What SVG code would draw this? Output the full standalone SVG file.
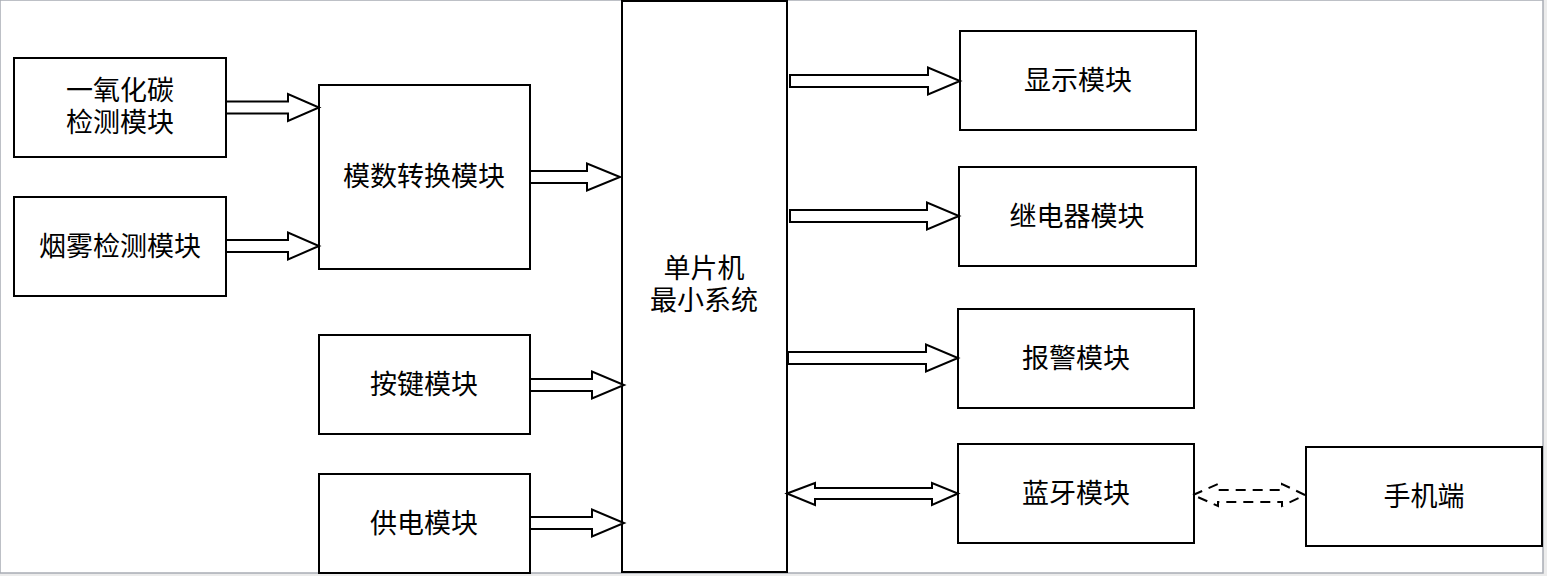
<svg xmlns="http://www.w3.org/2000/svg" width="1547" height="576" viewBox="0 0 1547 576">
<style>
.box{fill:#fff;stroke:#000;stroke-width:2}
.t{font-family:"Liberation Sans","Noto Sans CJK SC",sans-serif;font-size:27px;fill:#000;text-anchor:middle}
.arr{fill:#fff;stroke:#000;stroke-width:2;stroke-linejoin:miter}
.dash{fill:none;stroke:#000;stroke-width:2;stroke-dasharray:10,7}
</style>
<rect x="0" y="0" width="1547" height="576" fill="#ececec"/>
<rect x="0" y="0" width="1543" height="573" fill="#fff" stroke="#a8acb4" stroke-width="1.5"/>
<g id="co"><rect class="box" x="14" y="58" width="212" height="99"/><text class="t" x="120" y="100">一氧化碳</text><text class="t" x="120" y="132">检测模块</text></g>
<g id="smoke"><rect class="box" x="14" y="197" width="212" height="99"/><text class="t" x="120" y="256">烟雾检测模块</text></g>
<g id="adc"><rect class="box" x="319" y="85" width="211" height="184"/><text class="t" x="424" y="186">模数转换模块</text></g>
<g id="key"><rect class="box" x="319" y="335" width="211" height="99"/><text class="t" x="424" y="394">按键模块</text></g>
<g id="power"><rect class="box" x="319" y="474" width="211" height="99"/><text class="t" x="424" y="533">供电模块</text></g>
<g id="mcu"><rect class="box" x="622" y="1" width="165" height="571"/><text class="t" x="704" y="278">单片机</text><text class="t" x="704" y="310">最小系统</text></g>
<g id="display"><rect class="box" x="960" y="31" width="236" height="99"/><text class="t" x="1078" y="90">显示模块</text></g>
<g id="relay"><rect class="box" x="959" y="167" width="237" height="99"/><text class="t" x="1077" y="226">继电器模块</text></g>
<g id="alarm"><rect class="box" x="958" y="309" width="236" height="99"/><text class="t" x="1076" y="368">报警模块</text></g>
<g id="bt"><rect class="box" x="958" y="444" width="236" height="99"/><text class="t" x="1076" y="503">蓝牙模块</text></g>
<g id="phone"><rect class="box" x="1306" y="447" width="236" height="99"/><text class="t" x="1424" y="506">手机端</text></g>
<g id="connectors">
<path class="arr" d="M226,101.5 H288 V94 L319,107.5 L288,121 V113.5 H226 Z"/>
<path class="arr" d="M226,240 H288 V232.5 L319,246 L288,259.5 V252 H226 Z"/>
<path class="arr" d="M530,171 H587 V163.5 L620,177 L587,190.5 V183 H530 Z"/>
<path class="arr" d="M530,379 H592 V371.5 L624,385 L592,398.5 V391 H530 Z"/>
<path class="arr" d="M530,517 H592 V509.5 L624,523 L592,536.5 V529 H530 Z"/>
<path class="arr" d="M790,75 H928 V67.5 L960,81 L928,94.5 V87 H790 Z"/>
<path class="arr" d="M790,210 H927 V202.5 L959,216 L927,229.5 V222 H790 Z"/>
<path class="arr" d="M788,352 H926 V344.5 L958,358 L926,371.5 V364 H788 Z"/>
<path class="arr" d="M787,493.5 L815,483 V488 H932 V483 L958,493.5 L932,505 V499 H815 V505 Z"/>
<path class="dash" d="M1193,495 L1218,484 V490 H1282 V484 L1305,495 L1282,506 V502 H1218 V506 Z"/>
</g>
</svg>
